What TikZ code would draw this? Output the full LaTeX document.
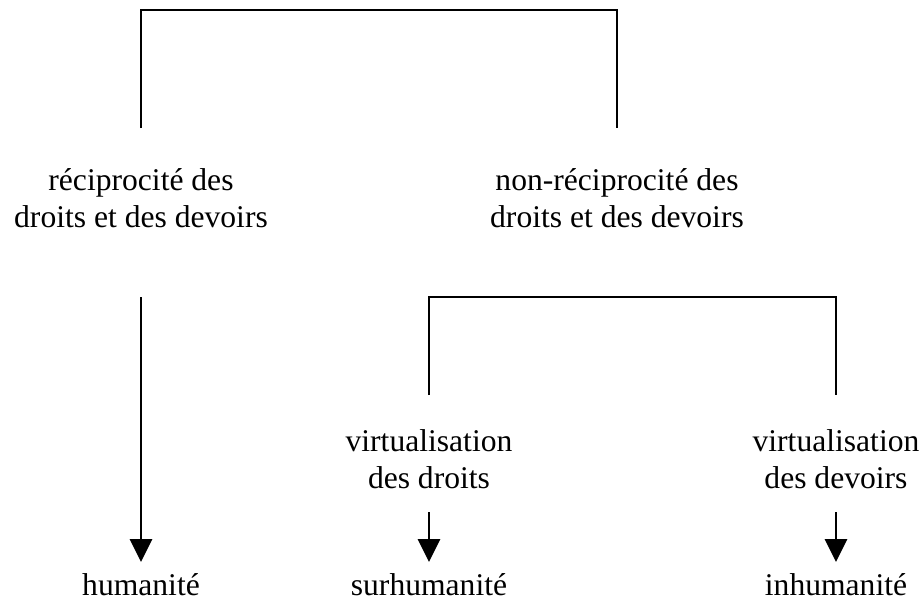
\documentclass[tikz,border=0pt]{standalone}
\usepackage{fontspec}
\setmainfont{Liberation Serif}
\usepackage{tikz}
\usetikzlibrary{positioning,arrows.meta}
\tikzset{
  bar/.style={line width=1.4pt},
  arrow/.style={-{Triangle[width=11pt,length=11.5pt]}, line width=1.4pt},
  term/.style={align=center, inner sep=0pt, font=\fontsize{15.8}{18.3}\selectfont},
  leaf/.style={term, anchor=base, outer sep=5.5pt}
}
\begin{document}
\begin{tikzpicture}[x=0.5pt, y=-0.5pt]
  \useasboundingbox (0,0) rectangle (922,605);
  % upper level
  \node[term] (recip) at (141,198) {réciprocité des\\droits et des devoirs};
  \node[term] (nonrecip) at (617,198) {non-réciprocité des\\droits et des devoirs};
  % lower level
  \node[term] (vdroits) at (429,459) {virtualisation\\des droits};
  \node[term] (vdevoirs) at (836,459) {virtualisation\\des devoirs};
  \node[leaf] (human) at (141,595) {humanité};
  \node[leaf] (surhum) at (429,595) {surhumanité};
  \node[leaf] (inhum) at (836,595) {inhumanité};

  \coordinate (a1) at (141,128);
  \coordinate (a2) at (617,128);
  \coordinate (b1) at (429,395);
  \coordinate (b2) at (836,395);
  \coordinate (r1) at (141,297);
  \coordinate (r2) at (429,512);
  \coordinate (r3) at (836,512);

  \draw[bar] (a1) |- (379,10) -| (a2);
  \draw[bar] (b1) |- (632,297) -| (b2);
  \draw[arrow] (r1) -- (human);
  \draw[arrow] (r2) -- (surhum);
  \draw[arrow] (r3) -- (inhum);
\end{tikzpicture}
\end{document}
